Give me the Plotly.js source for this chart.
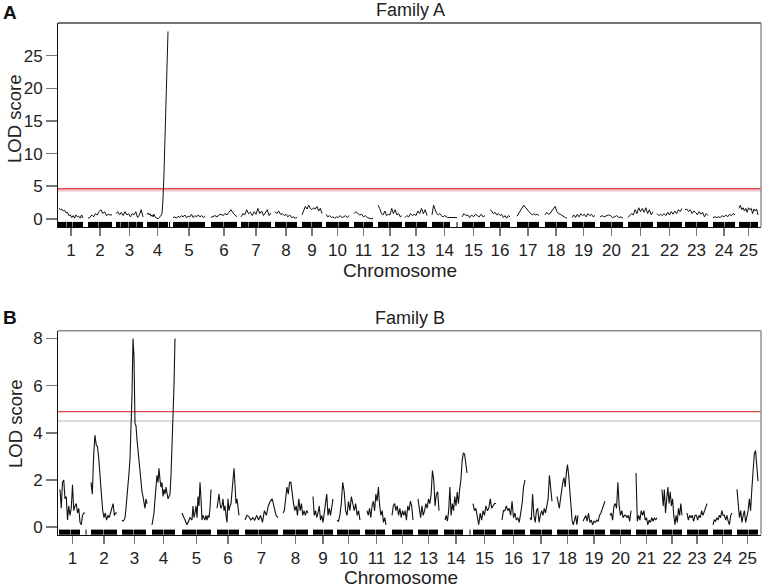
<!DOCTYPE html>
<html>
<head>
<meta charset="utf-8">
<script src="https://cdn.plot.ly/plotly-3.0.1.min.js"></script>
<style>html,body{margin:0;padding:0;background:#fff;}#chart{width:766px;height:588px;}</style>
</head>
<body>
<div id="chart"></div>
<script>
// ---------------- DATA ----------------
const chromosomes = ['1','2','3','4','5','6','7','8','9','10','11','12','13','14','15','16','17','18','19','20','21','22','23','24','25'];

// Family A: genome-wide position of each chromosome (start / end) and LOD values along it
const famA_start = [1,30,58,89,115,153,183,217,244,268,296,320,347,374,404,432,459,487,514,542,570,599,627,655,681];
const famA_end   = [25,54,85,110,147,179,213,239,264,291,315,344,369,399,427,452,481,509,537,565,595,624,650,677,700];
const famA_lod = [
  [1.6,1.4,1.5,1.2,1.3,0.9,1.0,0.5,0.6,0.2,0.5,0.1,0.6,0.3,0.4,0.1,0.6,0.1],
  [0.1,0.2,0.6,0.3,0.8,0.6,1.1,1.4,0.8,1.1,0.5,0.7,0.6,0.6],
  [0.8,1.1,0.6,1.0,0.5,1.1,0.6,0.8,0.3,0.8,0.6,1.1,0.2,0.6,1.4,0.3],
  [0.7,0.9,0.6,0.8,0.4,0.6,0.3,0.7,0.3,0.2,0.1,0.0,0.2,0.3,0.5,0.8,3.0,7.0,12,17,23,28.7],
  [0.2,0.3,0.1,0.4,0.2,0.5,0.3,0.6,0.2,0.4,0.3,0.7,0.2,0.5,0.3,0.6,0.3,0.5,0.2,0.4],
  [0.2,0.4,0.5,0.3,0.6,0.7,0.5,0.8,0.6,1.0,1.4,0.9,0.6,0.3],
  [0.3,0.8,0.6,1.4,0.8,1.0,0.5,1.1,0.7,1.6,0.8,1.2,0.5,1.0,1.4,0.5,0.9],
  [1.1,0.8,1.2,0.7,0.8,0.5,0.7,0.3,0.6,0.2,0.3,0.1,0.2],
  [0.6,1.4,1.9,1.5,2.1,1.6,1.4,1.7,1.5,1.9,1.2,1.6,0.8],
  [0.7,0.3,0.5,0.2,0.3,0.1,0.3,0.2,0.5,0.2,0.3,0.5,0.2,0.5],
  [0.8,1.1,0.8,0.6,0.7,0.3,0.5,0.2,0.1,0.0,0.1],
  [2.1,1.6,0.8,0.6,1.2,0.5,0.7,0.6,1.6,0.8,1.4,0.6,0.8,0.3,0.5],
  [0.2,0.5,0.3,0.8,0.5,0.7,0.5,1.2,0.8,1.6,0.8,1.4,0.5],
  [0.6,2.1,1.4,0.8,0.6,0.8,0.5,0.3,0.5,0.3,0.2,0.2,0.2,0.1,0.2,0.2,0.2],
  [0.3,0.8,0.5,0.6,0.2,0.6,0.3,0.7,0.5,0.3,0.7,0.3,0.5],
  [1.4,1.2,0.8,1.0,0.6,0.8,0.5,0.7,0.2,0.5,0.1,0.5,0.3],
  [0.4,0.8,1.1,1.6,2.1,1.7,1.5,1.1,0.8,0.6,0.8,0.6,0.7,0.5],
  [0.6,1.0,0.7,0.8,1.2,1.6,1.9,1.1,0.8,0.7,0.5,0.3,0.2,0.1],
  [0.2,0.6,0.2,0.7,0.3,0.8,0.5,0.7,0.3,0.8,0.5,0.7,0.3,0.5],
  [0.3,0.5,0.3,0.5,0.6,0.5,0.2,0.3,0.5,0.2,0.3,0.1],
  [0.2,0.5,0.8,0.6,1.4,0.8,1.7,1.1,1.6,1.0,1.7,0.8,1.4,0.6,1.1],
  [0.8,0.5,0.7,0.5,0.8,0.5,1.0,0.6,1.1,0.7,1.2,0.8,1.4,1.1,1.6],
  [1.4,1.5,1.1,1.4,0.8,1.2,1.0,0.6,1.1,0.7,1.0,0.3,0.8,0.5],
  [0.2,0.3,0.2,0.3,0.2,0.5,0.3,0.6,0.3,0.7,0.5,0.8,0.6],
  [1.6,2.1,1.4,1.7,1.2,1.6,1.0,1.7,1.4,1.6,0.8,1.5,1.2,1.5,0.6]
];
const famA_thresholds = [4.6, 4.3];
// marker blocks (rug) for Family A
const famA_markers = [[0,8.5],[9,14.5],[15,25],[30,40.5],[41,54],[58,62.5],[63,70.5],[71,78.5],[79,85],[89,100.5],[101,110],[111,112],
  [115,130.5],[131,147],[153,165.5],[166,179],[183,190.5],[191,200.5],[201,213],[217,228.5],[229,239],[244,253.5],[254,264],
  [268,280.5],[281,291],[296,305.5],[306,315],[320,330.5],[331,344],[347,358.5],[359,369],[374,385.5],[386,392],[398.5,399.5],
  [404,415.5],[416,427],[432,442.5],[443,452],[459,470.5],[471,481],[487,498.5],[499,509],[514,525.5],[526,537],[542,553.5],
  [554,565],[570,582.5],[583,595],[599,611.5],[612,624],[627,638.5],[639,650],[655,666.5],[667,677],[681,692.5],[693,700]];

// Family B
const famB_start = [2,33,64,94,124,159,187,225,255,279,309,334,360,387,415,444,472,499,525,552,578,604,629,655,679];
const famB_end   = [27,59,89,117,153,181,220,250,275,302,328,355,381,409,438,467,494,520,547,573,599,624,649,674,700];
const famB_lod = [
  [1.6,0.8,1.9,2.0,1.2,1.3,0.3,0.9,0.5,0.8,1.8,0.7,0.9,1.0,0.6,0.8,0.2,0.1,0.5,0.6,0.6],
  [1.9,1.4,3.0,3.9,3.5,3.4,2.9,2.3,1.4,0.7,0.4,0.6,0.3,0.5,0.4,0.6,0.8,1.0,0.5,0.6,0.6],
  [0.3,0.25,0.3,0.4,0.8,1.2,1.7,2.3,2.9,3.9,5.6,8.0,7.2,4.4,4.3,3.7,3.2,3.0,2.4,1.9,1.5,1.3,1.0,0.8,1.2,1.0],
  [0.1,0.3,0.6,1.2,1.9,2.2,1.9,2.5,2.0,1.7,1.9,1.3,1.6,1.4,1.7,1.3,1.2,1.3,1.4,2.2,3.3,4.5,6.0,8.0],
  [0.6,0.5,0.4,0.3,0.2,0.1,0.2,0.3,0.4,0.35,0.3,0.9,0.4,0.6,0.9,0.4,1.3,0.9,1.9,1.2,0.3,0.5,0.4,0.3,0.5,0.3,0.5,0.4,0.8,1.6],
  [0.8,1.1,1.4,1.0,0.8,0.9,1.2,0.7,0.9,0.5,0.2,1.2,0.7,0.9,1.0,1.5,2.2,2.5,1.8,1.0,1.2,0.7,0.5],
  [0.3,0.5,0.45,0.3,0.4,0.3,0.5,0.3,0.5,0.2,0.7,0.5,0.9,1.1,1.2,0.9,0.5,0.4],
  [0.6,0.7,1.2,1.7,1.4,1.9,1.9,1.3,1.0,0.7,0.9,0.5,1.2,0.7,1.0,0.5,0.7,0.5,0.7,0.6],
  [1.3,0.5,0.7,0.4,0.6,0.9,0.3,0.5,0.2,0.7,1.0,1.4,0.5,0.8,0.5,1.0,1.2],
  [0.3,0.25,0.5,1.0,1.9,1.5,0.7,0.5,1.1,0.7,1.3,1.0,0.7,1.0,0.5,0.7,0.3],
  [0.7,0.5,0.8,0.4,0.9,1.1,0.7,1.4,1.1,1.7,0.9,0.5,0.7,0.2,0.4,0.1],
  [0.5,0.9,1.0,0.7,0.9,0.5,0.8,0.4,0.7,0.5,0.7,0.3,0.9,0.7,1.1,0.9,0.3],
  [1.2,0.7,0.4,0.9,0.5,0.7,1.0,0.8,1.2,1.0,1.4,2.4,2.0,0.9,1.4,1.5,0.7],
  [0.3,0.5,0.25,0.7,1.7,0.5,1.0,0.7,1.3,0.9,1.5,1.0,1.6,2.0,2.8,3.15,3.1,2.7,2.3],
  [1.0,0.7,0.8,0.5,0.1,0.6,0.3,0.7,0.5,0.9,0.7,0.8,1.2,0.8,0.9,1.0,1.0],
  [0.3,0.7,0.7,0.9,0.7,0.8,0.5,1.1,0.4,0.6,0.3,0.4,0.2,0.6,1.0,1.7,2.0],
  [0.4,0.3,1.4,0.5,0.2,0.7,0.8,0.2,0.5,0.7,0.5,0.8,0.6,1.0,1.2,2.2,1.5,1.1],
  [1.3,1.1,0.8,1.2,1.6,1.9,2.1,1.7,2.3,2.65,2.2,1.4,0.9,0.25,0.1,0.3,0.5,0.1,0.5],
  [0.25,0.4,0.5,0.25,0.6,0.2,0.3,0.1,0.25,0.2,0.3,0.25,0.5,0.6,0.8,1.0,1.1],
  [0.5,0.6,0.3,0.9,1.0,0.8,1.9,0.9,0.5,0.7,0.4,0.5,0.5,0.4,0.5,0.25,0.7],
  [2.3,0.25,0.5,0.3,0.7,0.5,0.7,0.3,0.4,0.1,0.3,0.2,0.4,0.25,0.4,0.3,0.4],
  [1.6,0.9,1.6,0.6,1.2,1.7,1.0,1.5,0.9,1.2,0.5,0.1,0.5,0.2,0.8,0.5,1.0,0.5],
  [0.6,0.3,0.5,0.4,0.5,0.25,0.5,0.5,0.3,0.5,0.4,0.7,0.5,0.7,0.9,1.0],
  [0.1,0.3,0.25,0.4,0.3,0.5,0.4,0.7,0.5,0.5,0.3,0.5,0.25,0.1,0.5,0.6],
  [1.6,0.9,0.4,0.7,0.2,0.5,0.7,0.2,0.4,0.7,1.2,0.7,1.6,2.5,3.1,3.25,2.4,1.95]
];
const famB_thresholds = [4.9, 4.5];
const famB_markers = [[1,12.5],[13,22],[27.5,28.5],[33,45.5],[46,59],[64,75.5],[76,88],[94,105.5],[106,117],[124,138.5],[139,153],
  [159,170.5],[171,181],[187,200.5],[201,220],[225,237.5],[238,250],[255,265.5],[266,275],[279,290.5],[291,302],[307,317.5],[318,327],
  [334,344.5],[345,355],[360,370.5],[371,380],[386,396.5],[397,405],[411.5,412.5],[415,426.5],[427,438],[444,455.5],[456,467],
  [472,483.5],[484,494],[499,510.5],[511,520],[525,536.5],[537,547],[552,562.5],[563,573],[578,588.5],[589,599],[604,614.5],
  [615,624],[629,640.5],[641,650],[655,665.5],[666,674],[679,690.5],[691,700]];

// ---------------- BUILD ----------------
const W = 766, H = 588;
const FONT = 'Liberation Sans, Arial, Helvetica, sans-serif';

function curve(starts, ends, lods) {
  const x = [], y = [];
  for (let c = 0; c < lods.length; c++) {
    const v = lods[c], n = v.length;
    for (let i = 0; i < n; i++) {
      x.push(starts[c] + (ends[c] - starts[c]) * i / (n - 1));
      y.push(v[i]);
    }
    x.push(null); y.push(null);
  }
  return {x, y};
}
function centers(starts, ends) { return starts.map((s, i) => (s + ends[i]) / 2); }

const cA = curve(famA_start, famA_end, famA_lod);
const cB = curve(famB_start, famB_end, famB_lod);
const XR = [0, 703];

const traces = [
  {x: XR, y: [famA_thresholds[1], famA_thresholds[1]], xaxis: 'x', yaxis: 'y', mode: 'lines', line: {color: '#efc6cf', width: 1.6}, hoverinfo: 'skip'},
  {x: XR, y: [famA_thresholds[0], famA_thresholds[0]], xaxis: 'x', yaxis: 'y', mode: 'lines', line: {color: '#e0474c', width: 1.4}, hoverinfo: 'skip'},
  {x: cA.x, y: cA.y, xaxis: 'x', yaxis: 'y', mode: 'lines', connectgaps: false, line: {color: '#111', width: 1}},
  {x: XR, y: [famB_thresholds[1], famB_thresholds[1]], xaxis: 'x2', yaxis: 'y2', mode: 'lines', line: {color: '#cfcfcf', width: 1.6}, hoverinfo: 'skip'},
  {x: XR, y: [famB_thresholds[0], famB_thresholds[0]], xaxis: 'x2', yaxis: 'y2', mode: 'lines', line: {color: '#e0474c', width: 1.4}, hoverinfo: 'skip'},
  {x: cB.x, y: cB.y, xaxis: 'x2', yaxis: 'y2', mode: 'lines', connectgaps: false, line: {color: '#111', width: 1.1}}
];

const shapes = [];
famA_markers.forEach(m => shapes.push({type: 'rect', xref: 'x', yref: 'y domain', x0: m[0], x1: m[1], y0: 0, y1: 0.025, fillcolor: '#000', line: {width: 0}}));
famB_markers.forEach(m => shapes.push({type: 'rect', xref: 'x2', yref: 'y2 domain', x0: m[0], x1: m[1], y0: 0, y1: 0.025, fillcolor: '#000', line: {width: 0}}));
[['x', 'y', '#444'], ['x2', 'y2', '#8c8c8c']].forEach(([xa, ya, col]) => {
  shapes.push({type: 'line', xref: xa + ' domain', yref: ya + ' domain', x0: 0, x1: 1, y0: 1, y1: 1, line: {color: col, width: 1.4}});
  shapes.push({type: 'line', xref: xa + ' domain', yref: ya + ' domain', x0: 1, x1: 1, y0: 0, y1: 1, line: {color: '#8c8c8c', width: 1.4}});
});

function px2y(p) { return 1 - p / H; }
function px2x(p) { return p / W; }

const xdom = [px2x(58), px2x(761)];
const axX = (tv) => ({
  range: XR, domain: xdom, showgrid: false, zeroline: false, showline: true, linecolor: '#111', linewidth: 1,
  ticks: 'outside', ticklen: 8, tickwidth: 1.5, tickcolor: '#777', tickvals: tv, ticktext: chromosomes,
  tickfont: {family: FONT, size: 17, color: '#222'}, fixedrange: true
});
const axY = (rng, tv, dom) => ({
  range: rng, domain: dom, showgrid: false, zeroline: false, showline: true, linecolor: '#111', linewidth: 1,
  ticks: 'outside', ticklen: 11, tickwidth: 1.5, tickcolor: '#777', tickvals: tv,
  tickfont: {family: FONT, size: 17, color: '#222'}, fixedrange: true
});

const ann = (text, x, y, size, extra) => Object.assign({
  text: text, x: px2x(x), y: px2y(y), xref: 'paper', yref: 'paper', showarrow: false,
  xanchor: 'center', yanchor: 'middle', font: {family: FONT, size: size, color: '#222'}
}, extra || {});

const layout = {
  width: W, height: H, margin: {l: 0, r: 0, t: 0, b: 0, pad: 0},
  paper_bgcolor: '#fff', plot_bgcolor: 'rgba(0,0,0,0)', showlegend: false,
  xaxis: Object.assign(axX(centers(famA_start, famA_end)), {anchor: 'y'}),
  yaxis: Object.assign(axY([-1.25, 30], [0, 5, 10, 15, 20, 25], [px2y(227), px2y(23)]), {anchor: 'x'}),
  xaxis2: Object.assign(axX(centers(famB_start, famB_end)), {anchor: 'y2'}),
  yaxis2: Object.assign(axY([-0.32, 8.33], [0, 2, 4, 6, 8], [px2y(534.7), px2y(330.7)]), {anchor: 'x2'}),
  shapes: shapes,
  annotations: [
    ann('<b>A</b>', 10, 13, 19, {font: {family: FONT, size: 19, color: '#111'}}),
    ann('<b>B</b>', 10, 317, 19, {font: {family: FONT, size: 19, color: '#111'}}),
    ann('Family A', 410, 10, 18),
    ann('Family B', 410, 318, 18),
    ann('Chromosome', 400, 270, 19),
    ann('Chromosome', 401, 577, 19),
    ann('LOD score', 15, 119, 18.5, {textangle: -90}),
    ann('LOD score', 15, 424, 18.5, {textangle: -90})
  ]
};

Plotly.newPlot('chart', traces, layout, {staticPlot: true, displayModeBar: false});
</script>
</body>
</html>
